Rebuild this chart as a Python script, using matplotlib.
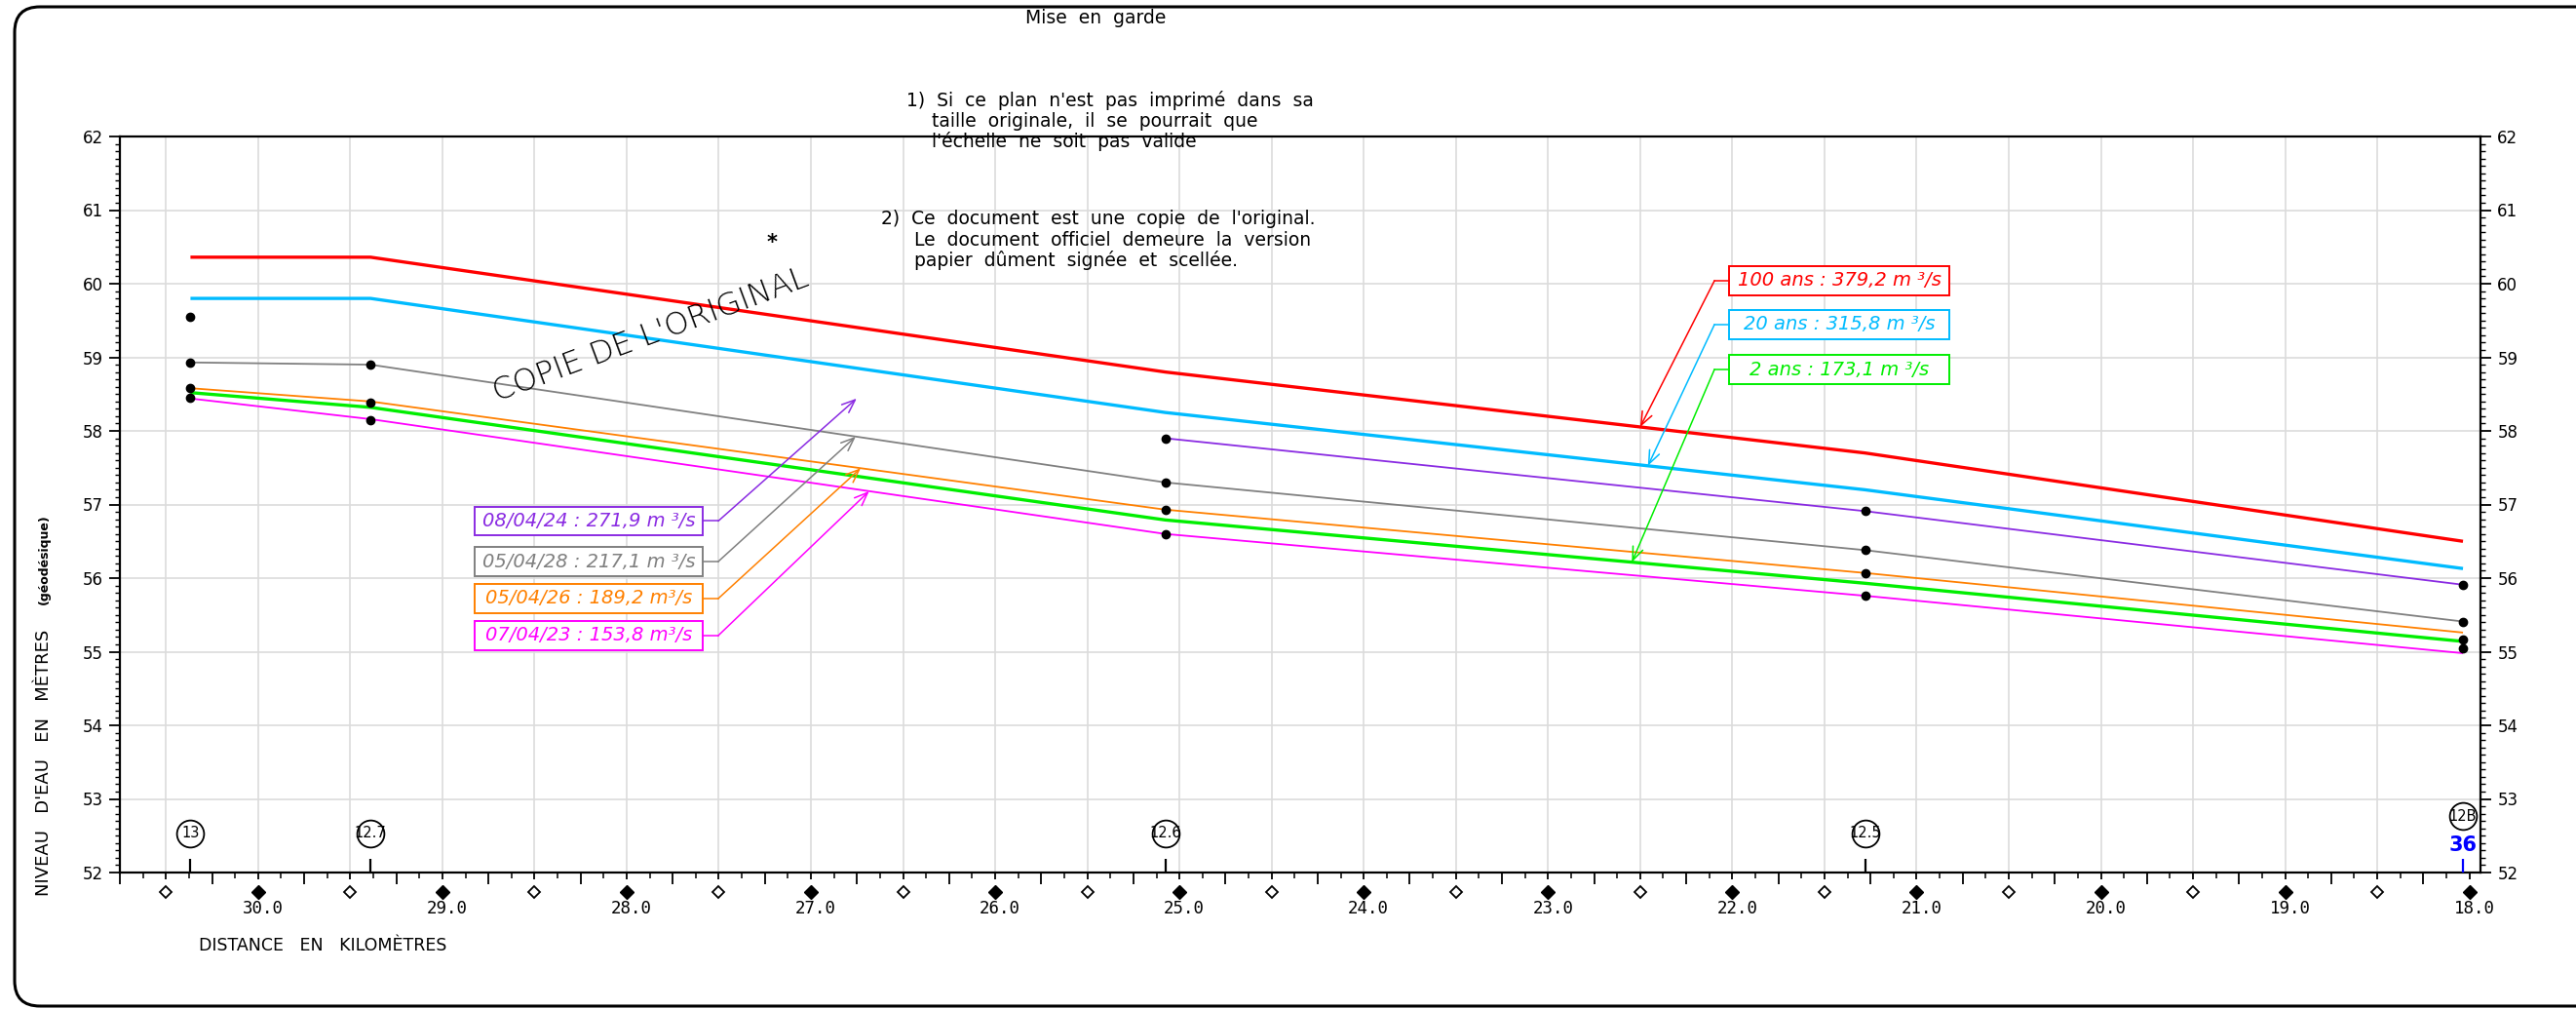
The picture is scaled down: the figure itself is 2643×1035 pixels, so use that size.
import numpy as np
import matplotlib
matplotlib.use('Agg')
import matplotlib.pyplot as plt
from matplotlib import font_manager as fm
from matplotlib.patches import Rectangle, FancyBboxPatch
from matplotlib.transforms import blended_transform_factory, ScaledTranslation
from matplotlib.ticker import FixedLocator, FuncFormatter

# ---------------- data ----------------
stations_km = [30.367, 29.39, 25.077, 21.28, 18.035]
station_labels = ['13', '12.7', '12.6', '12.5', '12B']

q100_line = [60.36, 60.36, 58.80, 57.70, 56.50]
q20_line = [59.80, 59.80, 58.25, 57.20, 56.13]
ev240408_line = [np.nan, np.nan, 57.90, 56.91, 55.91]
ev280405_line = [58.93, 58.90, 57.30, 56.38, 55.41]
ev260405_line = [58.58, 58.40, 56.93, 56.07, 55.26]
q2_line = [58.52, 58.32, 56.79, 55.93, 55.14]
ev230407_line = [58.44, 58.16, 56.60, 55.76, 54.98]

ev240408_obs = [59.55, np.nan, 57.90, 56.91, 55.91]
ev280405_obs = [58.93, 58.90, 57.30, 56.38, 55.41]
ev260405_obs = [58.58, 58.39, 56.93, 56.07, 55.17]
ev230407_obs = [58.45, 58.15, 56.60, 55.76, 55.05]

right_labels = ['100 ans : 379,2 m ³/s', '20 ans : 315,8 m ³/s', '2 ans : 173,1 m ³/s']
left_labels = ['08/04/24 : 271,9 m ³/s', '05/04/28 : 217,1 m ³/s',
               '05/04/26 : 189,2 m³/s', '07/04/23 : 153,8 m³/s']

xtick_major = np.arange(30.5, 17.99, -0.5)
ytick_major = np.arange(52, 62.01, 1.0)

# ---------------- style ----------------
W, H, DPI = 2643, 1035, 100
RED, BLUE, GREEN = '#ff0000', '#00bbff', '#00ee00'
PURPLE, GRAY, ORANGE, MAGENTA = '#8a2be2', '#808080', '#ff8000', '#ff00ff'

plt.rcParams['font.family'] = ['DejaVu Sans']


def pick(names):
    for n in names:
        try:
            fm.findfont(fm.FontProperties(family=n), fallback_to_default=False)
            return n
        except Exception:
            pass
    return 'DejaVu Sans'


NARROW = pick(['Liberation Sans Narrow', 'DejaVu Sans'])
IS_NARROW = NARROW != 'DejaVu Sans'

fig = plt.figure(figsize=(W / DPI, H / DPI), dpi=DPI)
fig.patch.set_facecolor('white')


def fx(px):
    return px / W


def fy(py):
    return 1 - py / H


ax = fig.add_axes([fx(123), fy(895), (2545 - 123) / W, (895 - 140) / H])
ax.set_xlim(30.75, 17.94)
ax.set_ylim(52, 62)

for s in ax.spines.values():
    s.set_linewidth(1.6)

# x ticks
ax.xaxis.set_major_locator(FixedLocator(xtick_major))
ax.xaxis.set_major_formatter(FuncFormatter(
    lambda v, p: f'{v:.1f}' if abs(v - round(v)) < 1e-6 else ''))
xminor = [v for v in np.arange(30.75, 17.9, -0.125) if abs(v * 4 - round(v * 4)) > 1e-6]
ax.xaxis.set_minor_locator(FixedLocator(xminor))
ax.tick_params(axis='x', which='major', length=5, width=1.3, direction='out',
               pad=15, labelsize=12.5, labelfontfamily='DejaVu Sans Mono')
ax.tick_params(axis='x', which='minor', length=4.3, width=1.1, direction='out')
sec = ax.secondary_xaxis('bottom')
sec.xaxis.set_major_locator(FixedLocator(np.arange(30.75, 17.9, -0.5)))
sec.tick_params(length=8.6, width=1.3, labelbottom=False, direction='out')
sec.spines['bottom'].set_visible(False)
for lab in ax.get_xticklabels():
    lab.set_transform(lab.get_transform() + ScaledTranslation(5 / DPI, 0, fig.dpi_scale_trans))

# y ticks
ax.yaxis.set_major_locator(FixedLocator(ytick_major))
ax.yaxis.set_minor_locator(FixedLocator(np.arange(52, 62.001, 0.1)))
ax.tick_params(axis='y', which='both', left=True, right=True,
               labelleft=True, labelright=True, direction='out')
ax.tick_params(axis='y', which='major', length=8, width=1.3, labelsize=12, pad=4.5)
ax.tick_params(axis='y', which='minor', length=3.6, width=1.0)
ax.yaxis.set_major_formatter(FuncFormatter(lambda v, p: f'{v:.0f}'))

ax.set_axisbelow(True)
ax.grid(True, which='major', color='#dcdcdc', lw=1.2)
for v, gl in zip(xtick_major, ax.get_xgridlines()):
    if abs(v - 18.0) < 1e-6:
        gl.set_visible(False)

# ---------------- series ----------------
xs = np.array(stations_km)
series = [
    (q100_line, RED, 2.4), (q20_line, BLUE, 2.4), (ev240408_line, PURPLE, 1.3),
    (ev280405_line, GRAY, 1.3), (ev260405_line, ORANGE, 1.3), (q2_line, GREEN, 2.4),
    (ev230407_line, MAGENTA, 1.3),
]
for vals, col, lw in series:
    ax.plot(xs, vals, color=col, lw=lw, zorder=3, solid_capstyle='butt')

for obs in (ev240408_obs, ev280405_obs, ev260405_obs, ev230407_obs):
    ax.plot(xs, obs, 'o', ls='none', color='black', ms=6, zorder=5)

# km diamonds below axis
tr = blended_transform_factory(ax.transData, ax.transAxes)
km_int = [v for v in xtick_major if abs(v - round(v)) < 1e-6]
km_half = [v for v in xtick_major if abs(v - round(v)) > 1e-6]
ax.plot(km_int, [-0.0265] * len(km_int), 'D', ms=6.8, mfc='black', mec='black',
        transform=tr, clip_on=False, ls='none')
ax.plot(km_half, [-0.0265] * len(km_half), 'D', ms=6.4, mfc='white', mec='black',
        mew=1.3, transform=tr, clip_on=False, ls='none')

# section markers
circ_y = [52.53, 52.53, 52.53, 52.53, 52.765]
ax.vlines(xs[:4], 52, 52.19, color='black', lw=1.6, zorder=4)
ax.vlines(xs[4:], 52, 52.18, color='#0000ff', lw=1.6, zorder=4)
for x, y, lab in zip(xs, circ_y, station_labels):
    ax.plot([x], [y], 'o', ms=20, mfc='white', mec='black', mew=1.3, zorder=6)
    ax.text(x, y, lab, ha='center', va='center', fontsize=10.5, family=NARROW, zorder=7)
ax.text(xs[4], 52.375, '36', ha='center', va='center', fontsize=15,
        fontweight='bold', color='#0000ff', zorder=7)

# ---------------- labelled boxes ----------------
BOX_FS = 17 if IS_NARROW else 14
BOX_H = 0.397


def interp(x, vals):
    v = np.array(vals, float)
    m = ~np.isnan(v)
    return float(np.interp(x, xs[m][::-1], v[m][::-1]))


def label_box(text, color, yc, xl, xr, edge, elbow, tip):
    ax.add_patch(Rectangle((xr, yc - BOX_H / 2), xl - xr, BOX_H, fc='white', ec=color,
                           lw=1.4, zorder=8))
    ax.text((xl + xr) / 2, yc, text, color=color, ha='center', va='center',
            fontsize=BOX_FS, style='italic', family=NARROW, zorder=9)
    ax.plot([edge, elbow], [yc, yc], color=color, lw=1.1, zorder=8)
    ax.annotate('', xy=tip, xytext=(elbow, yc), zorder=8,
                arrowprops=dict(arrowstyle='->,head_length=0.7,head_width=0.28', color=color,
                                lw=1.1, shrinkA=0, shrinkB=0, mutation_scale=14))


r_xl, r_xr, r_elbow = 22.018, 20.823, 22.097
for lab, col, vals, yc, tx in zip(right_labels, [RED, BLUE, GREEN],
                                  [q100_line, q20_line, q2_line],
                                  [60.04, 59.444, 58.834], [22.50, 22.458, 22.545]):
    label_box(lab, col, yc, r_xl, r_xr, r_xl, r_elbow, (tx, interp(tx, vals)))

l_xl, l_xr, l_elbow = 28.825, 27.587, 27.503
tips_left = [(26.752, 58.44), (26.757, interp(26.757, ev280405_line)),
             (26.73, interp(26.73, ev260405_line)), (26.684, interp(26.684, ev230407_line))]
for lab, col, yc, tip in zip(left_labels, [PURPLE, GRAY, ORANGE, MAGENTA],
                             [56.775, 56.225, 55.722, 55.219], tips_left):
    label_box(lab, col, yc, l_xl, l_xr, l_xr, l_elbow, tip)

# watermark and asterisk
ax.text(27.867, 59.30, "COPIE DE L'ORIGINAL", rotation=20.4, rotation_mode='anchor',
        ha='center', va='center', fontsize=23, fontweight='light', family=NARROW, zorder=4)
ax.text(27.21, 60.55, '*', ha='center', va='center', fontsize=15, fontweight='bold')

# ---------------- axis titles ----------------
fig.text(fx(45), fy(919), "NIVEAU   D'EAU   EN   MÈTRES", rotation=90, rotation_mode='anchor',
         ha='left', va='center', fontsize=13, family=NARROW)
fig.text(fx(45), fy(620), "(géodésique)", rotation=90, rotation_mode='anchor',
         ha='left', va='center', fontsize=9, fontweight='bold', family=NARROW)
fig.text(fx(204), fy(970), "DISTANCE   EN   KILOMÈTRES", ha='left', va='center',
         fontsize=12.5, family=NARROW)

# ---------------- warning notes ----------------
HFS = 15.8 if IS_NARROW else 13.5
notes = [
    (1052, 18, 'Mise  en  garde'),
    (930, 103, '1)  Si  ce  plan  n\'est  pas  imprimé  dans  sa'),
    (956, 124, 'taille  originale,  il  se  pourrait  que'),
    (956, 145, 'l\'échelle  ne  soit  pas  valide'),
    (904, 225, '2)  Ce  document  est  une  copie  de  l\'original.'),
    (938, 247, 'Le  document  officiel  demeure  la  version'),
    (938, 267, 'papier  dûment  signée  et  scellée.'),
]
for px, py, t in notes:
    fig.text(fx(px), fy(py), t, ha='left', va='center', fontsize=HFS, family=NARROW)

# ---------------- frame (right side runs off the sheet) ----------------
frame = FancyBboxPatch((0.15, 0.03), 30.0, 10.25, boxstyle='round,pad=0,rounding_size=0.26',
                       transform=fig.dpi_scale_trans, fill=False, ec='black', lw=2.2)
fig.add_artist(frame)

fig.savefig('out.png', dpi=DPI, facecolor='white')
